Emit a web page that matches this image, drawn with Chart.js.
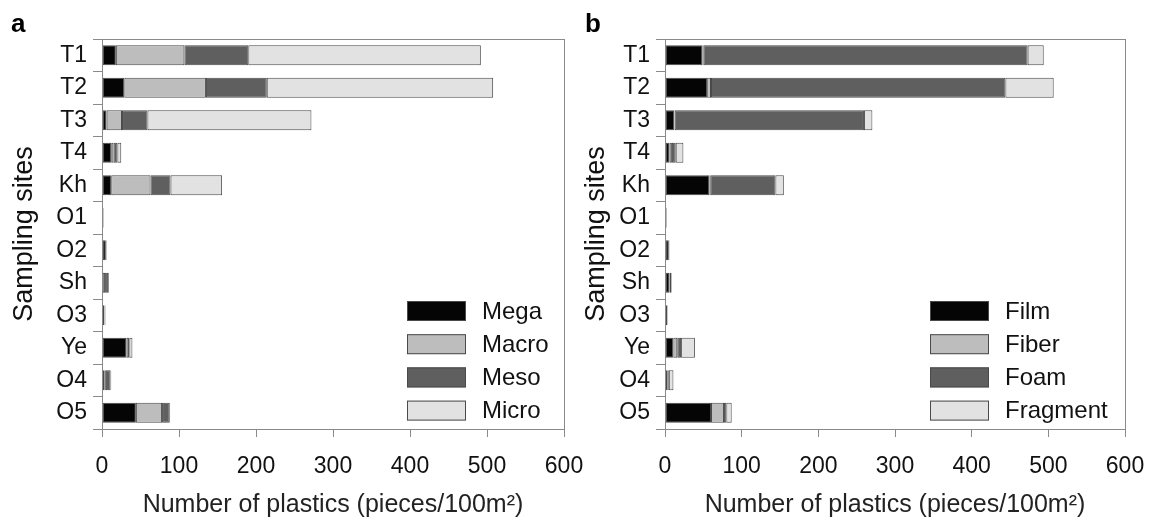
<!DOCTYPE html>
<html>
<head>
<meta charset="utf-8">
<script src="https://cdn.jsdelivr.net/npm/chart.js@4.4.0/dist/chart.umd.min.js"></script>
<style>
  body { margin: 0; background: #fff; }
  #wrap { position: relative; width: 1153px; height: 524px; overflow: hidden; }
  .panel { position: absolute; top: 0; height: 524px; }
  .tag { position: absolute; top: 8px; font: bold 26px "Liberation Sans", Arial, sans-serif; }
</style>
</head>
<body>
<div id="wrap">
  <div class="panel" style="left:0;width:600px"><canvas id="chartA"></canvas></div>
  <div class="panel" style="left:578px;width:575px"><canvas id="chartB"></canvas></div>
  <div class="tag" style="left:11px">a</div>
  <div class="tag" style="left:585px">b</div>
</div>
<script>
const sites = ['T1', 'T2', 'T3', 'T4', 'Kh', 'O1', 'O2', 'Sh', 'O3', 'Ye', 'O4', 'O5'];
const xTicks = [0, 100, 200, 300, 400, 500, 600];

// panel a: size classes
const mega  = [18, 29, 6, 12, 12, 1, 5, 1, 3, 32, 3, 44];
const macro = [89, 106, 20, 3, 51, 0.5, 0.5, 3, 0.5, 3, 2, 34];
const meso  = [83, 79, 33, 5, 26, 0.5, 0.5, 4, 1, 0.5, 6, 10];
const micro = [302, 294, 213, 5, 67, 0.5, 0.5, 1, 0, 4, 1, 0.5];

// panel b: shapes
const film     = [49, 55, 12, 6, 58, 1, 5, 6, 3, 11, 3, 60];
const fiber    = [1, 5, 0.5, 3, 1, 0, 0.5, 0.5, 0, 5, 1, 17];
const foam     = [423, 384, 247, 5, 85, 1, 0.5, 2, 0.5, 5, 1, 3];
const fragment = [21, 63, 11, 10, 11, 0.5, 0, 0.5, 0.5, 18, 6, 7];

const shades = ['#050505', '#bdbdbd', '#5f5f5f', '#e2e2e2'];
const fontFam = '"Liberation Sans", Arial, sans-serif';

function ds(label, data, i) {
  return {
    label: label,
    data: data,
    backgroundColor: shades[i],
    borderColor: '#4a4a4a',
    borderWidth: 1,
    borderSkipped: false,
    barPercentage: 0.62,
    categoryPercentage: 1
  };
}

// frame round the plot + legend inside it
const framePlugin = {
  id: 'frame',
  afterDraw(chart, args, opts) {
    const ctx = chart.ctx, a = chart.chartArea;
    ctx.save();
    ctx.strokeStyle = '#8a8a8a';
    ctx.lineWidth = 1;
    ctx.strokeRect(a.left + 0.5, a.top + 0.5, a.right - a.left, a.bottom - a.top);
    ctx.font = '24px ' + fontFam;
    ctx.textBaseline = 'middle';
    chart.data.datasets.forEach((d, i) => {
      const y = opts.y + i * 33.2;
      ctx.fillStyle = d.backgroundColor;
      ctx.fillRect(opts.x, y, 59, 20);
      ctx.strokeStyle = '#4a4a4a';
      ctx.strokeRect(opts.x + 0.5, y + 0.5, 58, 19);
      ctx.fillStyle = '#111';
      ctx.fillText(d.label, opts.x + 75, y + 11);
    });
    ctx.restore();
  }
};

function makeChart(id, sets, yAxisW, padRight, titlePad, legendX) {
  return new Chart(document.getElementById(id), {
    type: 'bar',
    data: { labels: sites, datasets: sets },
    plugins: [framePlugin],
    options: {
      indexAxis: 'y',
      responsive: true,
      maintainAspectRatio: false,
      animation: false,
      layout: { padding: { top: 39, right: padRight, left: 0, bottom: 0 } },
      plugins: {
        legend: { display: false },
        tooltip: { enabled: false },
        frame: { x: legendX, y: 301 }
      },
      scales: {
        x: {
          stacked: true,
          min: 0,
          max: 600,
          afterBuildTicks: (s) => { s.ticks = xTicks.map(v => ({ value: v })); },
          afterFit: (s) => { s.height = 95; s.paddingLeft = 0; s.paddingRight = 0; },
          grid: { drawOnChartArea: false, tickLength: 8, color: '#8a8a8a' },
          border: { color: '#8a8a8a' },
          ticks: { color: '#111', padding: 16, font: { family: fontFam, size: 23 } },
          title: {
            display: true,
            text: 'Number of plastics (pieces/100m\u00b2)',
            color: '#222',
            font: { family: fontFam, size: 25 },
            padding: { top: 0, bottom: 4 }
          }
        },
        y: {
          stacked: true,
          afterFit: (s) => { s.width = yAxisW; },
          grid: { drawOnChartArea: false, tickLength: 9, color: '#8a8a8a' },
          border: { color: '#8a8a8a' },
          ticks: { color: '#111', padding: 6, font: { family: fontFam, size: 23 } },
          title: {
            display: true,
            text: 'Sampling sites',
            color: '#111',
            font: { family: fontFam, size: 27 },
            padding: { top: titlePad, bottom: 0 }
          }
        }
      }
    }
  });
}

makeChart('chartA', [ds('Mega', mega, 0), ds('Macro', macro, 1), ds('Meso', meso, 2), ds('Micro', micro, 3)],
  102, 36, 8, 407);
makeChart('chartB', [ds('Film', film, 0), ds('Fiber', fiber, 1), ds('Foam', foam, 2), ds('Fragment', fragment, 3)],
  87, 28, 2, 352);
</script>
</body>
</html>
